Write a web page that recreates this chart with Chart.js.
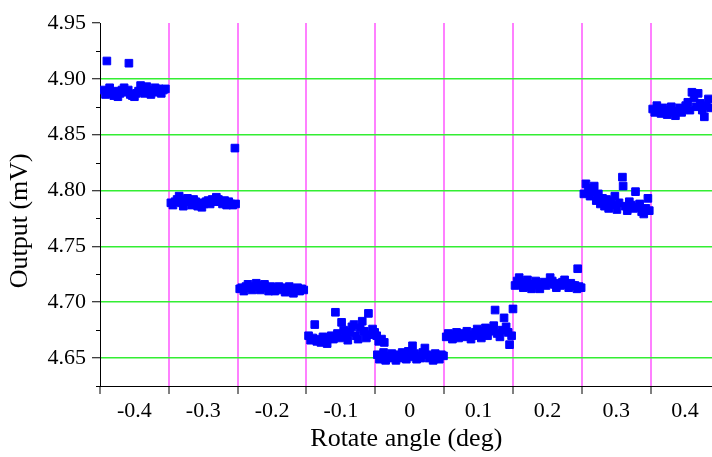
<!DOCTYPE html>
<html>
<head>
<meta charset="utf-8">
<script src="https://cdn.jsdelivr.net/npm/chart.js@4"></script>
<style>
  html, body { margin: 0; background: #fff; overflow: hidden; }
  #grafico { display: block; }
</style>
</head>
<body>
<canvas id="grafico" width="719" height="457"></canvas>
<script>
// dados: angulo (deg) x saida (mV), um bloco por patamar
const seg1Angle  = [-0.445, -0.442, -0.440, -0.439, -0.436, -0.433, -0.430, -0.427, -0.424, -0.421, -0.418, -0.415, -0.412, -0.409, -0.408, -0.406, -0.403, -0.400, -0.397, -0.394, -0.391, -0.388, -0.385, -0.382, -0.379, -0.376, -0.373, -0.370, -0.367, -0.364, -0.361, -0.358, -0.355];
const seg1Output = [4.890, 4.886, 4.916, 4.889, 4.892, 4.887, 4.885, 4.889, 4.884, 4.887, 4.890, 4.892, 4.888, 4.890, 4.914, 4.886, 4.885, 4.884, 4.887, 4.889, 4.894, 4.891, 4.887, 4.893, 4.890, 4.886, 4.889, 4.892, 4.888, 4.891, 4.887, 4.890, 4.891];

const seg2Angle  = [-0.347, -0.344, -0.341, -0.338, -0.335, -0.332, -0.329, -0.326, -0.323, -0.320, -0.317, -0.314, -0.311, -0.308, -0.305, -0.302, -0.299, -0.296, -0.293, -0.290, -0.287, -0.284, -0.281, -0.278, -0.275, -0.272, -0.269, -0.266, -0.263, -0.260, -0.257, -0.254, -0.253];
const seg2Output = [4.789, 4.787, 4.790, 4.792, 4.795, 4.789, 4.786, 4.791, 4.793, 4.790, 4.787, 4.792, 4.790, 4.786, 4.789, 4.785, 4.788, 4.790, 4.791, 4.788, 4.792, 4.790, 4.794, 4.792, 4.790, 4.788, 4.791, 4.787, 4.790, 4.788, 4.787, 4.838, 4.788];

const seg3Angle  = [-0.247, -0.244, -0.241, -0.238, -0.235, -0.232, -0.229, -0.226, -0.223, -0.220, -0.217, -0.214, -0.211, -0.208, -0.205, -0.202, -0.199, -0.196, -0.193, -0.190, -0.187, -0.184, -0.181, -0.178, -0.175, -0.172, -0.169, -0.166, -0.163, -0.160, -0.157, -0.154];
const seg3Output = [4.712, 4.713, 4.710, 4.714, 4.716, 4.713, 4.711, 4.714, 4.717, 4.715, 4.711, 4.714, 4.716, 4.713, 4.710, 4.714, 4.712, 4.710, 4.713, 4.714, 4.711, 4.713, 4.709, 4.712, 4.714, 4.711, 4.708, 4.712, 4.713, 4.710, 4.712, 4.711];

const seg4Angle  = [-0.147, -0.144, -0.141, -0.138, -0.135, -0.132, -0.129, -0.126, -0.123, -0.120, -0.117, -0.114, -0.111, -0.108, -0.105, -0.102, -0.099, -0.096, -0.093, -0.090, -0.087, -0.084, -0.081, -0.078, -0.075, -0.072, -0.069, -0.066, -0.063, -0.060, -0.057, -0.054, -0.051, -0.048, -0.045, -0.041, -0.037];
const seg4Output = [4.670, 4.666, 4.668, 4.680, 4.665, 4.667, 4.664, 4.669, 4.666, 4.663, 4.668, 4.670, 4.667, 4.691, 4.672, 4.668, 4.682, 4.675, 4.669, 4.666, 4.673, 4.678, 4.680, 4.670, 4.667, 4.677, 4.683, 4.674, 4.668, 4.690, 4.671, 4.676, 4.673, 4.670, 4.665, 4.667, 4.664];

const seg5Angle  = [-0.047, -0.044, -0.041, -0.038, -0.035, -0.032, -0.029, -0.026, -0.023, -0.020, -0.017, -0.014, -0.011, -0.008, -0.005, -0.002, 0.001, 0.004, 0.007, 0.010, 0.013, 0.016, 0.019, 0.022, 0.025, 0.028, 0.031, 0.034, 0.037, 0.040, 0.043, 0.046, 0.049];
const seg5Output = [4.653, 4.649, 4.651, 4.655, 4.648, 4.652, 4.650, 4.654, 4.651, 4.648, 4.653, 4.650, 4.655, 4.652, 4.649, 4.656, 4.651, 4.661, 4.654, 4.649, 4.652, 4.650, 4.655, 4.659, 4.653, 4.650, 4.652, 4.648, 4.654, 4.651, 4.649, 4.653, 4.652];

const seg6Angle  = [0.053, 0.056, 0.059, 0.062, 0.065, 0.068, 0.071, 0.074, 0.077, 0.080, 0.083, 0.086, 0.089, 0.092, 0.095, 0.098, 0.101, 0.104, 0.107, 0.110, 0.113, 0.116, 0.119, 0.122, 0.124, 0.127, 0.131, 0.134, 0.137, 0.140, 0.143, 0.145, 0.148, 0.150];
const seg6Output = [4.669, 4.672, 4.670, 4.667, 4.671, 4.673, 4.668, 4.670, 4.672, 4.669, 4.674, 4.671, 4.667, 4.670, 4.673, 4.676, 4.671, 4.668, 4.674, 4.677, 4.670, 4.674, 4.676, 4.679, 4.693, 4.672, 4.669, 4.675, 4.686, 4.678, 4.673, 4.662, 4.670, 4.694];

const seg7Angle  = [0.153, 0.156, 0.159, 0.162, 0.165, 0.168, 0.171, 0.174, 0.177, 0.180, 0.183, 0.186, 0.189, 0.192, 0.195, 0.198, 0.201, 0.204, 0.207, 0.210, 0.213, 0.216, 0.219, 0.222, 0.225, 0.228, 0.231, 0.234, 0.237, 0.240, 0.243, 0.244, 0.246, 0.249];
const seg7Output = [4.715, 4.719, 4.722, 4.716, 4.713, 4.718, 4.720, 4.714, 4.712, 4.716, 4.719, 4.715, 4.712, 4.716, 4.718, 4.715, 4.717, 4.722, 4.719, 4.716, 4.713, 4.717, 4.715, 4.718, 4.720, 4.716, 4.713, 4.717, 4.715, 4.715, 4.712, 4.730, 4.714, 4.713];

const seg8Angle  = [0.253, 0.256, 0.259, 0.262, 0.265, 0.268, 0.271, 0.274, 0.277, 0.280, 0.283, 0.286, 0.289, 0.292, 0.295, 0.298, 0.301, 0.304, 0.309, 0.310, 0.313, 0.316, 0.319, 0.322, 0.325, 0.328, 0.331, 0.334, 0.337, 0.340, 0.343, 0.346, 0.348];
const seg8Output = [4.797, 4.806, 4.802, 4.795, 4.799, 4.804, 4.791, 4.797, 4.788, 4.793, 4.786, 4.792, 4.784, 4.790, 4.787, 4.795, 4.783, 4.789, 4.812, 4.804, 4.786, 4.782, 4.790, 4.787, 4.784, 4.799, 4.785, 4.788, 4.781, 4.779, 4.784, 4.793, 4.782];

const seg9Angle  = [0.353, 0.356, 0.359, 0.362, 0.365, 0.368, 0.371, 0.374, 0.377, 0.380, 0.383, 0.386, 0.389, 0.392, 0.395, 0.398, 0.401, 0.404, 0.407, 0.410, 0.413, 0.416, 0.419, 0.422, 0.425, 0.428, 0.431, 0.434, 0.437];
const seg9Output = [4.873, 4.870, 4.876, 4.872, 4.869, 4.874, 4.871, 4.868, 4.872, 4.875, 4.870, 4.867, 4.871, 4.874, 4.870, 4.873, 4.876, 4.879, 4.872, 4.888, 4.883, 4.875, 4.887, 4.878, 4.872, 4.866, 4.876, 4.882, 4.874];

// eixos
const boundaryTicks = [-0.45, -0.35, -0.25, -0.15, -0.05, 0.05, 0.15, 0.25, 0.35];
const angleLabels = [-0.4, -0.3, -0.2, -0.1, 0, 0.1, 0.2, 0.3, 0.4];
const yMajorTicks = [4.65, 4.70, 4.75, 4.80, 4.85, 4.90, 4.95];
const yMinorTicks = [4.625, 4.675, 4.725, 4.775, 4.825, 4.875, 4.925];

const segmentos = [
    [seg1Angle, seg1Output], [seg2Angle, seg2Output], [seg3Angle, seg3Output],
    [seg4Angle, seg4Output], [seg5Angle, seg5Output], [seg6Angle, seg6Output],
    [seg7Angle, seg7Output], [seg8Angle, seg8Output], [seg9Angle, seg9Output]
];

const datasets = segmentos.map(function (s) {
    return {
        data: s[0].map((x, i) => ({ x: x, y: s[1][i] })),
        pointStyle: 'rect',
        pointRadius: 5.4,
        borderWidth: 1,
        borderColor: '#0000ff',
        backgroundColor: '#0000ff'
    };
});

// tracinhos menores no eixo y
const minorTicksPlugin = {
    id: 'minorTicks',
    afterDraw(chart) {
        const sy = chart.scales.y;
        const ctx = chart.ctx;
        ctx.save();
        ctx.strokeStyle = '#000';
        ctx.lineWidth = 1;
        ctx.beginPath();
        yMinorTicks.forEach(function (v) {
            const py = Math.round(sy.getPixelForValue(v)) + 0.5;
            ctx.moveTo(sy.right - 4, py);
            ctx.lineTo(sy.right, py);
        });
        ctx.stroke();
        ctx.restore();
    }
};

Chart.defaults.font.family = '"Liberation Serif", "Times New Roman", serif';
Chart.defaults.color = '#000';

const ctx = document.getElementById('grafico').getContext('2d');
const myChart = new Chart(ctx, {
    type: 'scatter',
    data: { datasets: datasets },
    plugins: [minorTicksPlugin],
    options: {
        responsive: false,
        animation: false,
        layout: { padding: { top: 23, right: 0, left: 0, bottom: 0 } },
        plugins: {
            legend: { display: false },
            tooltip: { enabled: false }
        },
        scales: {
            x: {
                type: 'linear',
                min: -0.45,
                max: 0.44,
                afterBuildTicks: function (scale) {
                    scale.ticks = boundaryTicks.concat(angleLabels)
                        .sort((a, b) => a - b)
                        .map(v => ({ value: v }));
                },
                afterFit: function (scale) { scale.height = 71; },
                border: { color: '#000', width: 1 },
                grid: {
                    lineWidth: 2,
                    tickLength: 8,
                    tickWidth: 1,
                    color: function (c) {
                        const v = c.tick ? c.tick.value : null;
                        if (v === -0.45) return 'rgba(0,0,0,0)';
                        return boundaryTicks.includes(v) ? '#ff80ff' : 'rgba(0,0,0,0)';
                    },
                    tickColor: function (c) {
                        const v = c.tick ? c.tick.value : null;
                        return boundaryTicks.includes(v) ? '#000' : 'rgba(0,0,0,0)';
                    }
                },
                ticks: {
                    autoSkip: false,
                    maxRotation: 0,
                    padding: 4,
                    font: { size: 22 },
                    callback: function (value) {
                        return angleLabels.includes(value) ? String(value) : '';
                    }
                },
                title: {
                    display: true,
                    text: 'Rotate angle (deg)',
                    font: { size: 26 },
                    padding: { top: 0, bottom: 2 }
                }
            },
            y: {
                min: 4.625,
                max: 4.95,
                afterBuildTicks: function (scale) {
                    scale.ticks = yMinorTicks.concat(yMajorTicks)
                        .sort((a, b) => a - b)
                        .map(v => ({ value: v }));
                },
                afterFit: function (scale) { scale.width = 100; },
                border: { color: '#000', width: 1 },
                grid: {
                    lineWidth: 1.5,
                    tickLength: 8,
                    tickWidth: 1,
                    color: function (c) {
                        const v = c.tick ? c.tick.value : null;
                        if (v === 4.95) return 'rgba(0,0,0,0)';
                        return yMajorTicks.includes(v) ? '#33ee33' : 'rgba(0,0,0,0)';
                    },
                    tickColor: function (c) {
                        const v = c.tick ? c.tick.value : null;
                        return yMajorTicks.includes(v) ? '#000' : 'rgba(0,0,0,0)';
                    }
                },
                ticks: {
                    autoSkip: false,
                    padding: 6,
                    font: { size: 22 },
                    callback: function (value) {
                        return yMajorTicks.includes(value) ? value.toFixed(2) : '';
                    }
                },
                title: {
                    display: true,
                    // espacos no fim empurram o titulo um pouco para baixo, como no original
                    text: 'Output (mV)     ',
                    font: { size: 26 },
                    padding: { top: 5, bottom: 0 }
                }
            }
        }
    }
});
</script>
</body>
</html>
